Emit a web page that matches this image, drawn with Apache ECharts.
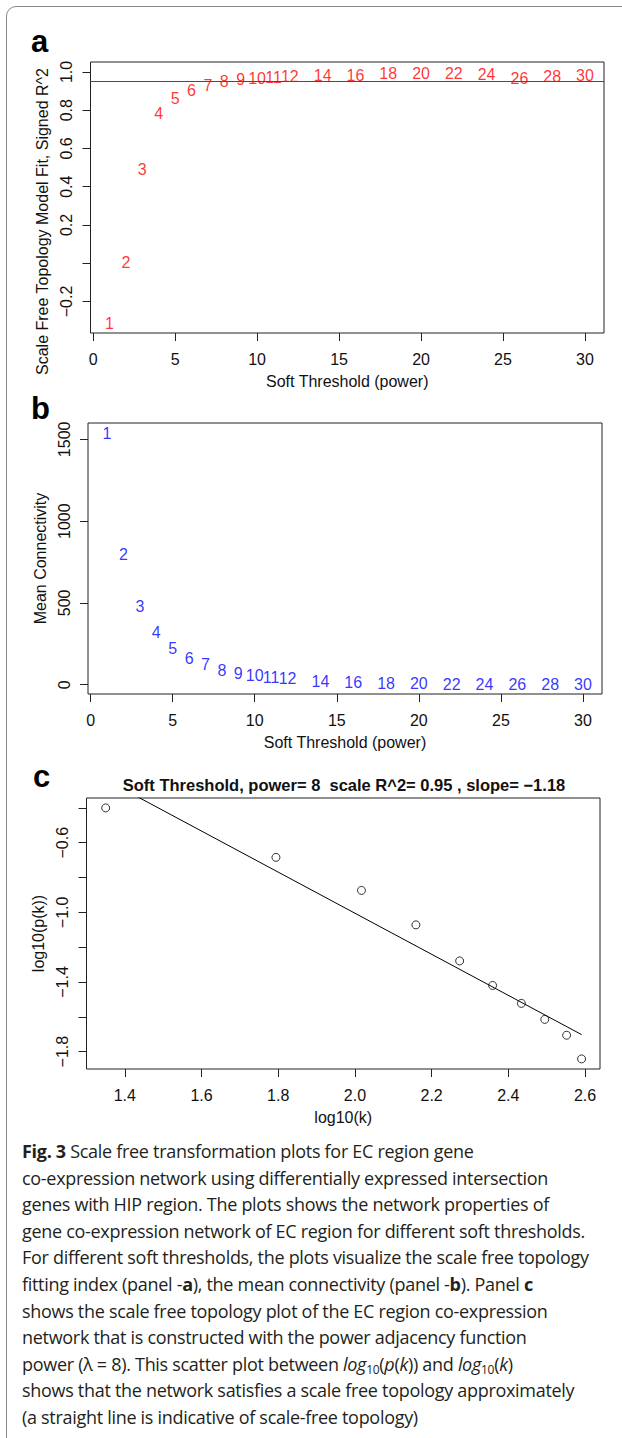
<!DOCTYPE html>
<html>
<head>
<meta charset="utf-8">
<script src="https://cdn.jsdelivr.net/npm/echarts@6/dist/echarts.min.js"></script>
<style>
  html, body { margin: 0; padding: 0; background: #fff; }
  body { width: 622px; height: 1438px; position: relative; overflow: hidden; }
  #frame { position: absolute; left: 6px; top: 6px; width: 700px; height: 1500px;
           border: 1.5px solid #888; border-radius: 10px; box-sizing: border-box; }
  #container { position: absolute; left: 0; top: 0; width: 622px; height: 1438px; }
  #caption { position: absolute; left: 22px; top: 1138px; width: 600px;
             font-family: "Open Sans", sans-serif; font-size: 18px; line-height: 26.6px;
             color: #231f20; white-space: nowrap; letter-spacing: -0.3px; }
  #caption b { font-weight: 700; }
  #caption i { font-style: italic; }
  #caption sub { font-size: 12px; vertical-align: -3px; line-height: 0; }
</style>
</head>
<body>
<div id="frame"></div>
<div id="container"></div>
<div id="caption">
  <div><b>Fig. 3</b> Scale free transformation plots for EC region gene</div>
  <div>co-expression network using differentially expressed intersection</div>
  <div>genes with HIP region. The plots shows the network properties of</div>
  <div>gene co-expression network of EC region for different soft thresholds.</div>
  <div>For different soft thresholds, the plots visualize the scale free topology</div>
  <div>fitting index (panel -<b>a</b>), the mean connectivity (panel -<b>b</b>). Panel <b>c</b></div>
  <div>shows the scale free topology plot of the EC region co-expression</div>
  <div>network that is constructed with the power adjacency function</div>
  <div>power (&lambda; = 8). This scatter plot between <i>log</i><sub>10</sub>(<i>p</i>(<i>k</i>)) and <i>log</i><sub>10</sub>(<i>k</i>)</div>
  <div>shows that the network satisfies a scale free topology approximately</div>
  <div>(a straight line is indicative of scale-free topology)</div>
</div>
<script>
const container = document.getElementById('container');
const chartIns = echarts.init(container, undefined, { renderer: 'svg' });

// soft threshold powers
const powers = [1, 2, 3, 4, 5, 6, 7, 8, 9, 10, 11, 12, 14, 16, 18, 20, 22, 24, 26, 28, 30];
// panel a: scale free fit (signed R^2)
const sftR2 = [-0.315, 0.003, 0.491, 0.784, 0.863, 0.905, 0.929, 0.950, 0.961, 0.965, 0.970,
  0.975, 0.979, 0.982, 0.991, 0.991, 0.991, 0.986, 0.968, 0.977, 0.982];
const r2Cut = 0.95;
// panel b: mean connectivity
const meanK = [1537, 799, 481, 316, 219, 160, 121, 86, 71, 57, 46, 37, 22, 15, 10, 5, 4, 2, 2, 1.5, 1.5];
// panel c: scale free topology plot (power = 8)
const logK = [1.350, 1.794, 2.017, 2.159, 2.273, 2.359, 2.434, 2.495, 2.552, 2.591];
const logPk = [-0.400, -0.684, -0.874, -1.072, -1.279, -1.420, -1.523, -1.615, -1.706, -1.842];
const fitSlope = -1.18;
const fitIntercept = 1.355;

// tick values
const powerTicks = [0, 5, 10, 15, 20, 25, 30];
const r2Ticks = [-0.2, 0, 0.2, 0.4, 0.6, 0.8, 1.0];
const r2Labels = [-0.2, 0.2, 0.4, 0.6, 0.8, 1.0];
const kTicks = [0, 500, 1000, 1500];
const logKTicks = [1.4, 1.6, 1.8, 2.0, 2.2, 2.4, 2.6];
const logPkTicks = [-1.8, -1.6, -1.4, -1.2, -1.0, -0.8, -0.6, -0.4];
const logPkLabels = [-1.8, -1.4, -1.0, -0.6];

const FONT = 'Liberation Sans';
const INK = '#111';
const RED = '#ff0000';
const POW_MIN = -0.16, POW_MAX = 31.16;

const fmt1 = v => v.toFixed(1).replace('-', '\u2212');
const fmt0 = v => String(Math.round(v));

function xAx(gridIndex, min, max, ticks, fmt, name) {
  return {
    type: 'value', gridIndex, min, max, name,
    nameLocation: 'middle', nameGap: 40,
    nameTextStyle: { fontFamily: FONT, fontSize: 16, color: INK },
    axisLine: { show: false, onZero: false },
    splitLine: { show: false },
    axisTick: { show: true, length: 8, customValues: ticks, lineStyle: { color: '#222' } },
    axisLabel: { customValues: ticks, formatter: fmt, margin: 18,
      fontFamily: FONT, fontSize: 16, color: INK }
  };
}
function yAx(gridIndex, min, max, ticks, labels, fmt, name, namePad) {
  return {
    type: 'value', gridIndex, min, max, name,
    nameLocation: 'middle', nameGap: 40, nameRotate: 90,
    nameTextStyle: { fontFamily: FONT, fontSize: 16, color: INK, padding: namePad || 0 },
    axisLine: { show: false, onZero: false },
    splitLine: { show: false },
    axisTick: { show: true, length: 8, customValues: ticks, lineStyle: { color: '#222' } },
    axisLabel: { customValues: labels, formatter: fmt, rotate: 90, margin: 16,
      fontFamily: FONT, fontSize: 16, color: INK }
  };
}

const boxStyle = { show: true, borderColor: '#222', borderWidth: 1, backgroundColor: 'transparent' };

const option = {
  animation: false,
  backgroundColor: 'transparent',
  title: [{
    text: 'Soft Threshold, power= 8  scale R^2= 0.95 , slope= \u22121.18',
    left: 339, top: 771, textAlign: 'center',
    textStyle: { fontFamily: FONT, fontSize: 16.5, fontWeight: 'bold', color: INK }
  }],
  graphic: [
    { type: 'text', left: 31, top: 26, style: { text: 'a', font: 'bold 31px "Liberation Sans"', fill: '#000' } },
    { type: 'text', left: 31, top: 393, style: { text: 'b', font: 'bold 31px "Liberation Sans"', fill: '#000' } },
    { type: 'text', left: 33, top: 761, style: { text: 'c', font: 'bold 31px "Liberation Sans"', fill: '#000' } }
  ],
  grid: [
    Object.assign({ left: 90.5, top: 62, width: 513.5, height: 271 }, boxStyle),
    Object.assign({ left: 88, top: 423, width: 514, height: 271 }, boxStyle),
    Object.assign({ left: 86.5, top: 798, width: 513.5, height: 271 }, boxStyle)
  ],
  xAxis: [
    xAx(0, POW_MIN, POW_MAX, powerTicks, fmt0, 'Soft Threshold (power)'),
    xAx(1, POW_MIN, POW_MAX, powerTicks, fmt0, 'Soft Threshold (power)'),
    xAx(2, 1.3, 2.639, logKTicks, fmt1, 'log10(k)')
  ],
  yAxis: [
    yAx(0, -0.365, 1.052, r2Ticks, r2Labels, fmt1, 'Scale Free Topology Model Fit, Signed R^2', [0, 48, 0, 0]),
    yAx(1, -57, 1600, kTicks, kTicks, fmt0, 'Mean Connectivity'),
    yAx(2, -1.9, -0.343, logPkTicks, logPkLabels, fmt1, 'log10(p(k))')
  ],
  series: [
    {
      type: 'scatter', xAxisIndex: 0, yAxisIndex: 0,
      symbolSize: 1, itemStyle: { color: 'transparent' },
      data: powers.map((p, i) => [p, sftR2[i]]),
      label: { show: true, position: 'inside', formatter: d => String(d.value[0]),
        fontFamily: FONT, fontSize: 16, color: RED }
    },
    {
      // R^2 cut-off line (abline h = 0.95) across the whole plot box
      type: 'custom', xAxisIndex: 0, yAxisIndex: 0, silent: true, z: 10,
      encode: { x: 0, y: 1 },
      data: [[powerTicks[0], r2Cut]],
      renderItem: (params, api) => {
        const cs = params.coordSys;
        const y = api.coord([api.value(0), api.value(1)])[1];
        return {
          type: 'line',
          shape: { x1: cs.x, y1: y, x2: cs.x + cs.width, y2: y },
          style: { stroke: RED, lineWidth: 1, fill: null }
        };
      }
    },
    {
      type: 'scatter', xAxisIndex: 1, yAxisIndex: 1,
      symbolSize: 1, itemStyle: { color: 'transparent' },
      data: powers.map((p, i) => [p, meanK[i]]),
      label: { show: true, position: 'inside', formatter: d => String(d.value[0]),
        fontFamily: FONT, fontSize: 16, color: '#0000ff' }
    },
    {
      type: 'line', xAxisIndex: 2, yAxisIndex: 2,
      symbol: 'none', clip: true,
      lineStyle: { color: '#000', width: 1 },
      data: [Math.min(...logK), Math.max(...logK)].map(x => [x, fitIntercept + fitSlope * x])
    },
    {
      type: 'scatter', xAxisIndex: 2, yAxisIndex: 2,
      symbol: 'circle', symbolSize: 8,
      itemStyle: { color: '#fff', borderColor: '#000', borderWidth: 1 },
      data: logK.map((x, i) => [x, logPk[i]])
    }
  ]
};

chartIns.setOption(option);
</script>
</body>
</html>
